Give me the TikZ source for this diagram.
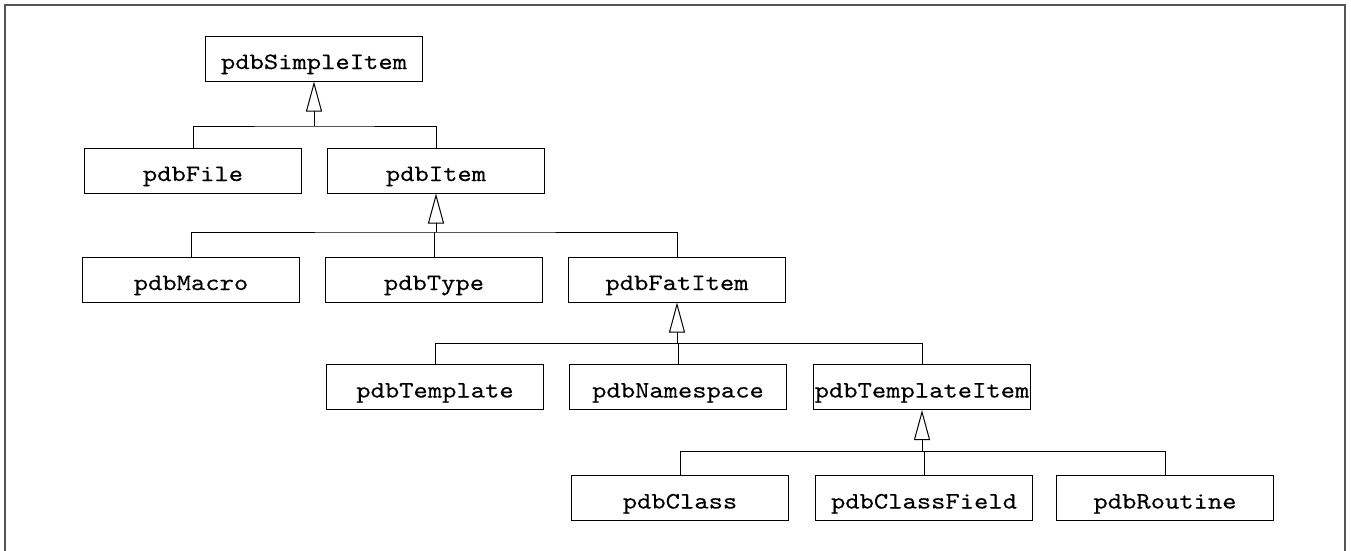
\documentclass[tikz,border=0pt]{standalone}
\usepackage{fontspec}
\newfontfamily\clsfont{lmmono10-regular.otf}[FakeStretch=1.16,FakeBold=0.25]
\usetikzlibrary{arrows.meta}
\definecolor{framegray}{RGB}{85,85,85}
\begin{document}
\begin{tikzpicture}[x=1pt,y=-1pt,
  cls/.style={draw=black,line width=1pt,rectangle,minimum width=217pt,minimum height=45pt,
    inner xsep=0pt,inner ysep=0pt,text height=33pt,text depth=12pt,
    font=\clsfont\fontsize{23.5}{28}\selectfont},
  conn/.style={draw=black,line width=1pt},
  inh/.style={conn,-{Triangle[open,length=30pt,width=16pt,line width=1pt]}}
]
\useasboundingbox (0,0) rectangle (1351,550);
\draw[framegray,line width=2pt] (5,551) -- (5,5) -- (1345,5) -- (1345,551);

\node[cls] (simple) at (314,58.5) {pdbSimpleItem};
\node[cls] (file) at (193,170.5) {pdbFile};
\node[cls] (item) at (436,170.5) {pdbItem};
\node[cls] (macro) at (191,279.5) {pdbMacro};
\node[cls] (type) at (434,279.5) {pdbType};
\node[cls] (fat) at (677,279.5) {pdbFatItem};
\node[cls] (templ) at (435,387) {pdbTemplate};
\node[cls] (ns) at (678,387) {pdbNamespace};
\node[cls] (titem) at (922,387) {pdbTemplateItem};
\node[cls] (class) at (680,498) {pdbClass};
\node[cls] (cfield) at (924,498) {pdbClassField};
\node[cls] (routine) at (1165,498) {pdbRoutine};

\coordinate (b1) at (314,126);
\coordinate (b2) at (436,232);
\coordinate (b3) at (677,343);
\coordinate (b4) at (922,451);

\draw[conn] (file.north) |- (b1) -| (item.north);
\draw[inh] (b1) -- (simple.south);

\draw[conn] (macro.north) |- (b2) -| (fat.north);
\draw[conn] (type.north) -- (type.north |- b2);
\draw[inh] (b2) -- (item.south);

\draw[conn] (templ.north) |- (b3) -| (titem.north);
\draw[conn] (ns.north) -- (ns.north |- b3);
\draw[inh] (b3) -- (fat.south);

\draw[conn] (class.north) |- (b4) -| (routine.north);
\draw[conn] (cfield.north) -- (cfield.north |- b4);
\draw[inh] (b4) -- (titem.south);
\end{tikzpicture}
\end{document}
